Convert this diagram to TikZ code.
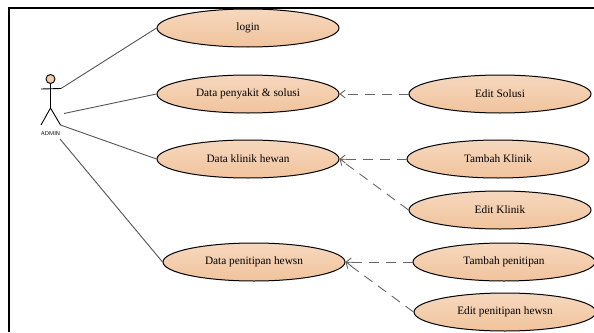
\documentclass[tikz,border=0pt]{standalone}
\usepackage{fontspec}
\setmainfont{Liberation Serif}
\usetikzlibrary{shapes.geometric,arrows.meta}
\definecolor{usetop}{HTML}{F6D8BE}
\definecolor{usebot}{HTML}{F1C39C}
\definecolor{headfill}{HTML}{F4CDAA}
\definecolor{linegray}{HTML}{555555}
\definecolor{dashgray}{HTML}{666666}
\tikzset{
  usecase/.style={ellipse,draw=black,line width=1pt,top color=usetop,bottom color=usebot,
    minimum width=182pt,minimum height=38pt,inner sep=0pt,font=\fontsize{11.3}{13}\selectfont},
  assoc/.style={draw=linegray,line width=0.9pt},
  dep/.style={draw=dashgray,line width=0.9pt,dash pattern=on 10pt off 7pt,
    -{Straight Barb[length=5pt,width=8pt,line width=0.9pt]}},
  stick/.style={draw=black,line width=0.9pt}
}
\begin{document}
\begin{tikzpicture}[x=1pt,y=-1pt]
  \useasboundingbox (0,0) rectangle (594,332);
  \draw[line width=2pt] (9,332) -- (9,8) -- (594,8);
  % actor
  \node[circle,draw=black,line width=0.9pt,fill=headfill,minimum size=9pt,inner sep=0pt] (head) at (50.5,79) {};
  \coordinate (armL) at (41,89);
  \coordinate (armR) at (61,88.5);
  \coordinate (hip) at (50.5,108);
  \coordinate (legL) at (41,125);
  \coordinate (legR) at (60.5,125);
  \coordinate (free) at (64,113.5);
  \coordinate (labelend) at (60,139);
  \node[font=\sffamily\fontsize{5.6}{6.5}\selectfont] (admin) at (50.5,134) {ADMIN};
  \draw[stick] (head) -- (hip);
  \draw[stick] (armL) -- (armR);
  \draw[stick] (legL) -- (hip) -- (legR);
  % use cases
  \node[usecase] (login) at (248,28) {login};
  \node[usecase] (penyakit) at (248,94) {Data penyakit \& solusi};
  \node[usecase] (klinik) at (248,159) {Data klinik hewan};
  \node[usecase] (penitipan) at (254,262) {Data penitipan hewsn};
  \node[usecase] (editsolusi) at (500,94) {Edit Solusi};
  \node[usecase] (tambahklinik) at (498,159) {Tambah Klinik};
  \node[usecase] (editklinik) at (500,210) {Edit Klinik};
  \node[usecase] (tambahpenitipan) at (504,262) {Tambah penitipan};
  \node[usecase] (editpenitipan) at (505,312) {Edit penitipan hewsn};
  % associations
  \draw[assoc] (armR) -- (login.west);
  \draw[assoc] (free) -- (penyakit.west);
  \draw[assoc] (legR) -- (klinik.west);
  \draw[assoc] (labelend) -- (penitipan.west);
  % dependencies
  \draw[dep] (editsolusi.west) -- (penyakit.east);
  \draw[dep] (tambahklinik.west) -- (klinik.east);
  \draw[dep] (editklinik.west) -- (klinik.east);
  \draw[dep] (tambahpenitipan.west) -- (penitipan.east);
  \draw[dep] (editpenitipan.west) -- (penitipan.east);
\end{tikzpicture}
\end{document}
